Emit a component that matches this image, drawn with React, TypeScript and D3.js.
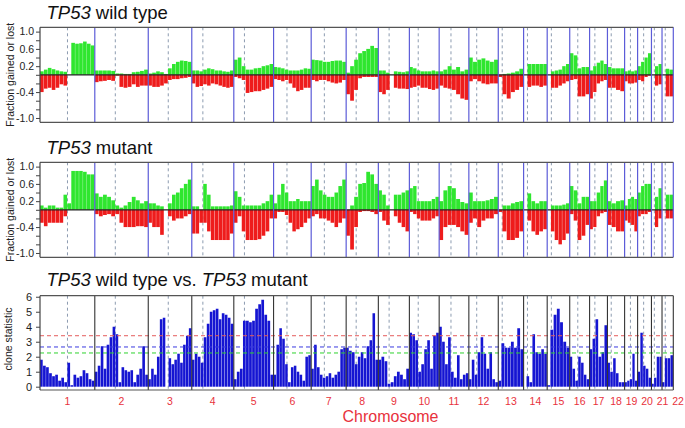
import * as d3 from 'd3';
import React, { useEffect, useRef } from 'react';

// chromosome sizes and centromere positions (Mb)
const chromNames = ['1', '2', '3', '4', '5', '6', '7', '8', '9', '10', '11', '12', '13', '14', '15', '16', '17', '18', '19', '20', '21', '22'];
const chromLengths = [249.25, 243.2, 198.0, 191.15, 180.9, 171.1, 159.1, 146.4, 141.2, 135.5, 135.0, 133.85, 115.2, 107.35, 102.5, 90.35, 81.2, 78.1, 59.1, 63.0, 48.1, 51.3];
const centromeres = [125.0, 93.3, 91.0, 50.4, 48.4, 61.0, 59.9, 45.6, 49.0, 40.2, 53.7, 35.8, 17.9, 17.6, 19.0, 36.6, 24.0, 17.2, 26.5, 27.5, 13.2, 14.7];

// TP53 wild type: fraction gained / lost, equal bins along each chromosome
const wtGain = [
  [0.08, 0.12, 0.16, 0.13, 0.1, 0.08, 0.07, 0, 0.74, 0.72, 0.73, 0.77, 0.72, 0.68],
  [0.1, 0.1, 0.1, 0.1, 0.09, 0.03, 0.03, 0.02, 0.02, 0.06, 0.07, 0.09, 0.12],
  [0.03, 0.05, 0.08, 0.06, 0.02, 0.15, 0.25, 0.3, 0.33, 0.32, 0.3],
  [0.1, 0.1, 0.08, 0.12, 0.15, 0.13, 0.1, 0.1, 0.08, 0.07, 0.1],
  [0.35, 0.4, 0.2, 0.12, 0.12, 0.15, 0.16, 0.2, 0.22, 0.25],
  [0.18, 0.17, 0.15, 0.12, 0.1, 0.1, 0.1, 0.12, 0.15, 0.14],
  [0.35, 0.34, 0.33, 0.3, 0.3, 0.32, 0.33, 0.33, 0.3],
  [0.05, 0.2, 0.35, 0.5, 0.55, 0.6, 0.67, 0.62],
  [0.1, 0.1, 0.05, 0, 0.08, 0.07, 0.06, 0.08],
  [0.18, 0.15, 0.1, 0.08, 0.08, 0.08, 0.1, 0.08],
  [0.08, 0.12, 0.2, 0.12, 0.18, 0.08, 0.12],
  [0.4, 0.3, 0.35, 0.38, 0.33, 0.3, 0.35],
  [0, 0.02, 0.03, 0.05, 0.08, 0.14],
  [0, 0.25, 0.25, 0.25, 0.25, 0.25],
  [0, 0.08, 0.1, 0.12, 0.2, 0.25],
  [0.5, 0.45, 0.15, 0.18, 0.18],
  [0.1, 0.2, 0.28, 0.33, 0.25],
  [0.18, 0.15, 0.15, 0.15],
  [0.08, 0.1, 0.08, 0.1],
  [0.2, 0.3, 0.4, 0.5],
  [0, 0.2, 0.25],
  [0, 0.14, 0.12],
];
const wtLoss = [
  [-0.4, -0.32, -0.3, -0.35, -0.3, -0.22, -0.25, 0, 0, 0, 0, 0, 0, 0],
  [-0.17, -0.15, -0.14, -0.12, -0.14, -0.02, -0.28, -0.3, -0.28, -0.22, -0.28, -0.25, -0.25],
  [-0.25, -0.28, -0.28, -0.25, -0.2, -0.12, -0.1, -0.1, -0.08, -0.07, -0.05],
  [-0.2, -0.28, -0.26, -0.22, -0.25, -0.2, -0.22, -0.25, -0.28, -0.3, -0.28],
  [-0.05, -0.08, -0.12, -0.42, -0.4, -0.38, -0.38, -0.35, -0.32, -0.28],
  [-0.1, -0.12, -0.15, -0.12, -0.2, -0.3, -0.38, -0.35, -0.3, -0.3],
  [-0.12, -0.15, -0.12, -0.12, -0.15, -0.18, -0.2, -0.18, -0.12],
  [-0.45, -0.6, -0.35, -0.08, -0.05, -0.05, -0.05, -0.05],
  [-0.4, -0.45, -0.35, 0, -0.3, -0.32, -0.32, -0.33],
  [-0.3, -0.28, -0.25, -0.3, -0.3, -0.33, -0.35, -0.32],
  [-0.25, -0.3, -0.32, -0.35, -0.45, -0.55, -0.58],
  [-0.15, -0.1, -0.15, -0.2, -0.22, -0.2, -0.2],
  [-0.05, -0.45, -0.55, -0.4, -0.35, -0.28],
  [0, -0.28, -0.25, -0.25, -0.28, -0.25],
  [0, -0.3, -0.3, -0.25, -0.2, -0.15],
  [-0.12, -0.1, -0.5, -0.5, -0.45],
  [-0.55, -0.4, -0.2, -0.15, -0.12],
  [-0.3, -0.3, -0.35, -0.38],
  [-0.15, -0.2, -0.2, -0.18],
  [-0.12, -0.15, -0.05, -0.02],
  [0, -0.25, -0.22],
  [0, -0.5, -0.5],
];

// TP53 mutant
const mutGain = [
  [0.1, 0.05, 0.1, 0.1, 0.05, 0.05, 0.35, 0.15, 0.9, 0.9, 0.9, 0.88, 0.82, 0.82],
  [0.38, 0.3, 0.35, 0.3, 0.22, 0.1, 0.05, 0.1, 0.18, 0.3, 0.22, 0.15, 0.2],
  [0.15, 0.15, 0.1, 0.08, 0, 0.15, 0.35, 0.4, 0.5, 0.6, 0.7],
  [0.08, 0.08, 0, 0.6, 0.35, 0.08, 0.08, 0.08, 0.08, 0.08, 0.1],
  [0.43, 0.3, 0.1, 0.1, 0.1, 0.1, 0.1, 0.15, 0.2, 0.35],
  [0.15, 0.35, 0.6, 0.4, 0.2, 0.2, 0.25, 0.2, 0.2, 0.2],
  [0.55, 0.7, 0.45, 0.35, 0.3, 0.3, 0.4, 0.55, 0.7],
  [0, 0.1, 0.3, 0.6, 0.62, 0.88, 0.82, 0.6],
  [0.45, 0.35, 0.1, 0, 0.35, 0.35, 0.4, 0.45],
  [0.5, 0.55, 0.2, 0.2, 0.2, 0.2, 0.25, 0.3],
  [0.2, 0.45, 0.55, 0.5, 0.25, 0.18, 0.15],
  [0.4, 0.2, 0.2, 0.2, 0.22, 0.25, 0.3],
  [0, 0.1, 0.1, 0.15, 0.18, 0.2],
  [0, 0.38, 0.2, 0.15, 0.2, 0.2],
  [0, 0.1, 0.1, 0.1, 0.12, 0.15],
  [0.55, 0.45, 0.15, 0.3, 0.3],
  [0.2, 0.2, 0.4, 0.55, 0.68],
  [0.2, 0.15, 0.2, 0.22],
  [0.1, 0.25, 0.3, 0.25],
  [0.4, 0.55, 0.6, 0.6],
  [0, 0.3, 0.5],
  [0, 0.35, 0.35],
];
const mutLoss = [
  [-0.3, -0.38, -0.3, -0.3, -0.3, -0.3, -0.15, 0, 0, 0, 0, 0, 0, 0],
  [-0.1, -0.15, -0.12, -0.1, -0.15, -0.1, -0.3, -0.4, -0.4, -0.4, -0.38, -0.38, -0.4],
  [-0.3, -0.4, -0.4, -0.58, 0, -0.15, -0.25, -0.2, -0.2, -0.15, -0.1],
  [-0.55, -0.55, -0.3, -0.3, -0.5, -0.7, -0.7, -0.7, -0.7, -0.7, -0.55],
  [-0.3, -0.15, -0.5, -0.7, -0.7, -0.7, -0.68, -0.6, -0.5, -0.2],
  [-0.2, -0.05, -0.05, -0.12, -0.3, -0.5, -0.45, -0.4, -0.3, -0.2],
  [-0.15, -0.1, -0.2, -0.2, -0.25, -0.3, -0.4, -0.3, -0.2],
  [-0.6, -0.92, -0.4, -0.05, -0.03, -0.03, -0.05, -0.1],
  [-0.05, -0.25, -0.35, 0, -0.15, -0.3, -0.4, -0.5],
  [-0.05, -0.1, -0.2, -0.25, -0.25, -0.25, -0.2, -0.15],
  [-0.7, -0.4, -0.35, -0.35, -0.4, -0.5, -0.58],
  [-0.3, -0.2, -0.4, -0.25, -0.2, -0.2, -0.1],
  [-0.05, -0.5, -0.7, -0.7, -0.65, -0.5],
  [0, -0.25, -0.5, -0.58, -0.5, -0.45],
  [0, -0.5, -0.7, -0.8, -0.7, -0.55],
  [-0.1, -0.25, -0.7, -0.6, -0.35],
  [-0.45, -0.4, -0.15, -0.08, -0.05],
  [-0.35, -0.4, -0.5, -0.5],
  [-0.25, -0.3, -0.35, -0.5],
  [-0.15, -0.1, -0.1, -0.05],
  [0, -0.4, -0.2],
  [0, -0.2, -0.2],
];

// wild type vs. mutant clone statistic
const cloneStat = [
  [1.8, 1.4, 1.3, 0.9, 0.7, 0.8, 0.4, 0.6, 0.3, 1.6, 0.1, 0.8, 0.6, 0.7, 1.1, 0.9, 0.5, 0.4],
  [1.0, 1.4, 2.7, 1.2, 2.8, 3.3, 4.0, 3.5, 0.3, 1.3, 1.1, 1.0, 1.1, 0.3, 0.8, 1.2, 2.7, 0.8],
  [0.5, 1.2, 0.8, 2.0, 4.5, 4.6, 0, 1.9, 1.5, 1.8, 2.2, 1.6, 2.8, 3.4, 3.9],
  [1.8, 2.2, 2.0, 1.6, 3.3, 4.2, 5.0, 5.1, 5.2, 4.5, 4.9, 4.8, 4.6, 4.2],
  [0.5, 1.0, 1.2, 4.4, 4.4, 4.3, 4.4, 5.2, 5.5, 5.8, 4.8, 4.4, 0.8],
  [0.8, 2.8, 3.9, 3.2, 1.5, 0.3, 1.3, 1.4, 1.0, 0.8, 0.4, 2.0, 2.1],
  [1.2, 2.8, 1.3, 0.8, 0.6, 0.7, 0.9, 0.6, 0.8, 1.0, 2.5, 2.6],
  [2.6, 2.4, 2.3, 1.5, 2.0, 2.3, 1.9, 2.7, 3.1, 4.9, 1.8],
  [1.8, 2.0, 1.7, 0.2, 0.3, 0.7, 1.0, 0.8, 0.5, 1.2],
  [3.6, 3.5, 3.1, 1.0, 1.5, 2.5, 3.1, 1.2, 3.4, 3.6],
  [4.0, 3.0, 1.5, 3.3, 1.0, 0.6, 2.1, 0.5, 0.8, 0.9],
  [0.5, 1.8, 0.8, 2.3, 3.3, 2.2, 1.2, 2.3, 0.5, 0.3],
  [0.4, 2.9, 2.6, 2.6, 3.0, 2.6, 3.9, 2.5],
  [0, 0.7, 0.3, 3.5, 2.3, 2.2, 2.5, 2.2],
  [0.1, 3.8, 4.8, 5.2, 4.3, 3.0, 2.6],
  [2.0, 1.2, 0.4, 2.0, 1.6, 0.8, 0.5],
  [2.5, 3.2, 4.5, 2.0, 2.3, 4.1],
  [1.6, 1.0, 1.9, 0.9, 0.3, 0.3],
  [0.3, 0.4, 0.5, 2.2, 0.4],
  [1.0, 3.6, 1.4, 1.2, 0.6],
  [0.2, 0.6, 2.0, 2.0],
  [0.3, 1.9, 1.9, 2.1],
];

const fractionTicks = [-1.0, -0.8, -0.6, -0.4, -0.2, 0, 0.2, 0.4, 0.6, 0.8, 1.0];
const fractionLabels = [1.0, 0.6, 0.2, -0.4, -1.0];
const statTicks = [0, 1, 2, 3, 4, 5, 6];
const cutoffs = [3.4, 2.65, 2.25];
const cutoffColors = ['#e55b5b', '#3a3ae0', '#2ed22e'];

const FONT = 'Arial, "Liberation Sans", sans-serif';

const App = () => {
  const chartRef = useRef(null);

  useEffect(() => {
    drawChart();
  }, []);

  const drawChart = () => {
    const svg = d3.select(chartRef.current);
    svg.selectAll('*').remove();

    const left = 40;
    const right = 673.3;
    const starts = chromLengths.map((_, i) => d3.sum(chromLengths.slice(0, i)));
    const total = d3.sum(chromLengths);
    const x = d3.scaleLinear().domain([0, total]).range([left, right]);

    const binRecords = (series) => series.flatMap((vals, c) =>
      vals.map((v, i) => {
        const step = chromLengths[c] / vals.length;
        return { x0: x(starts[c] + i * step), x1: x(starts[c] + (i + 1) * step), v };
      })
    );

    const title = (y, parts) => {
      const t = svg.append('text')
        .attr('x', 46.5).attr('y', y)
        .style('font-family', FONT).style('font-size', '18.5px').attr('fill', '#111');
      parts.forEach(([txt, it]) => t.append('tspan').text(txt).style('font-style', it ? 'italic' : 'normal'));
    };

    const yLabel = (cy, bx, txt) => {
      svg.append('text')
        .attr('transform', `translate(${bx},${cy}) rotate(-90)`)
        .attr('text-anchor', 'middle')
        .style('font-family', FONT).style('font-size', '10.5px').attr('fill', '#222')
        .text(txt);
    };

    const centromereLines = (g, top, bottom) => {
      g.selectAll('.cen')
        .data(centromeres)
        .enter().append('line')
        .attr('x1', (d, i) => x(starts[i] + d)).attr('x2', (d, i) => x(starts[i] + d))
        .attr('y1', top).attr('y2', bottom)
        .attr('stroke', '#8c9bb0').attr('stroke-width', 1).attr('stroke-dasharray', '3,3');
    };

    const boundaries = (g, top, bottom, color, width) => {
      g.selectAll('.bnd')
        .data(chromLengths)
        .enter().append('line')
        .attr('x1', (d, i) => x(starts[i] + d)).attr('x2', (d, i) => x(starts[i] + d))
        .attr('y1', top).attr('y2', bottom)
        .attr('stroke', color).attr('stroke-width', width);
    };

    const frame = (g, top, bottom) => {
      g.append('line').attr('x1', left).attr('x2', right).attr('y1', top).attr('y2', top)
        .attr('stroke', '#555').attr('stroke-width', 1.2);
      g.append('line').attr('x1', left).attr('x2', right).attr('y1', bottom).attr('y2', bottom)
        .attr('stroke', '#555').attr('stroke-width', 1.2);
      g.append('line').attr('x1', left).attr('x2', left).attr('y1', top).attr('y2', bottom)
        .attr('stroke', '#444').attr('stroke-width', 1.2);
    };

    const fractionPanel = (top, bottom, gain, loss) => {
      const y = d3.scaleLinear().domain([-1.1, 1.1]).range([bottom, top]);
      const g = svg.append('g');

      centromereLines(g, top, bottom);

      g.selectAll('.gain')
        .data(binRecords(gain))
        .enter().append('rect')
        .attr('x', d => d.x0).attr('width', d => Math.max(0, d.x1 - d.x0 - 0.3))
        .attr('y', d => y(d.v)).attr('height', d => y(0) - y(d.v))
        .attr('fill', '#2fe62f');

      g.selectAll('.loss')
        .data(binRecords(loss))
        .enter().append('rect')
        .attr('x', d => d.x0).attr('width', d => Math.max(0, d.x1 - d.x0 - 0.3))
        .attr('y', y(0)).attr('height', d => y(d.v) - y(0))
        .attr('fill', '#ee1c1c');

      g.append('line').attr('x1', left).attr('x2', right).attr('y1', y(0)).attr('y2', y(0))
        .attr('stroke', '#222').attr('stroke-width', 1.2);

      boundaries(g, top, bottom, '#5c5cd8', 1.2);
      frame(g, top, bottom);

      const axis = d3.axisLeft(y)
        .tickValues(fractionTicks)
        .tickSize(4)
        .tickFormat(d => (fractionLabels.includes(d) ? d.toFixed(1) : ''));
      const ax = g.append('g').attr('transform', `translate(${left},0)`).call(axis);
      ax.select('.domain').remove();
      ax.selectAll('line').attr('stroke', '#444');
      ax.selectAll('text').style('font-family', FONT).style('font-size', '10.5px').attr('fill', '#222').attr('x', -6);
    };

    // panel 1 & 2
    title(18.5, [['TP53', true], [' wild type', false]]);
    fractionPanel(27.3, 122.3, wtGain, wtLoss);
    yLabel(74.8, 13.5, 'Fraction gained or lost');

    title(153.5, [['TP53', true], [' mutant', false]]);
    fractionPanel(162.3, 257.3, mutGain, mutLoss);
    yLabel(209.8, 13.5, 'Fraction gained or lost');

    // panel 3
    title(285.5, [['TP53', true], [' wild type vs. ', false], ['TP53', true], [' mutant', false]]);
    const top3 = 295.7;
    const bottom3 = 390;
    const ys = d3.scaleLinear().domain([-0.22, 6.07]).range([bottom3, top3]);
    const g3 = svg.append('g');

    centromereLines(g3, top3, bottom3);

    g3.selectAll('.stat')
      .data(binRecords(cloneStat))
      .enter().append('rect')
      .attr('x', d => d.x0).attr('width', d => Math.max(0, d.x1 - d.x0 - 0.35))
      .attr('y', d => ys(d.v)).attr('height', d => ys(0) - ys(d.v))
      .attr('fill', '#1515d2');

    g3.selectAll('.cut')
      .data(cutoffs)
      .enter().append('line')
      .attr('x1', left).attr('x2', right)
      .attr('y1', d => ys(d)).attr('y2', d => ys(d))
      .attr('stroke', (d, i) => cutoffColors[i]).attr('stroke-width', 1).attr('stroke-dasharray', '4,3');

    boundaries(g3, top3, bottom3, '#333', 1.1);
    frame(g3, top3, bottom3);

    const axis3 = d3.axisLeft(ys).tickValues(statTicks).tickSize(4).tickFormat(d => `${d}`);
    const ax3 = g3.append('g').attr('transform', `translate(${left},0)`).call(axis3);
    ax3.select('.domain').remove();
    ax3.selectAll('line').attr('stroke', '#444');
    ax3.selectAll('text').style('font-family', FONT).style('font-size', '11px').attr('fill', '#222').attr('x', -8);
    yLabel(339, 11.5, 'clone statistic');

    // chromosome labels, nudged apart where the small ones crowd
    const labelX = [];
    chromLengths.forEach((len, i) => {
      const cx = x(starts[i] + len / 2);
      labelX.push(i > 0 ? Math.max(cx, labelX[i - 1] + 15.5) : cx);
    });
    svg.selectAll('.chrom')
      .data(chromNames)
      .enter().append('text')
      .attr('x', (d, i) => labelX[i]).attr('y', 405)
      .attr('text-anchor', 'middle')
      .style('font-family', FONT).style('font-size', '10.5px').attr('fill', '#e8323c')
      .text(d => d);

    svg.append('text')
      .attr('x', 390.5).attr('y', 421.5)
      .attr('text-anchor', 'middle')
      .style('font-family', FONT).style('font-size', '16px').attr('fill', '#e8323c')
      .text('Chromosome');
  };

  return (
    <svg
      ref={chartRef}
      width={685}
      height={428}
      style={{ position: 'absolute', left: 0, top: 0, background: '#fff' }}
    ></svg>
  );
};

export default App;
